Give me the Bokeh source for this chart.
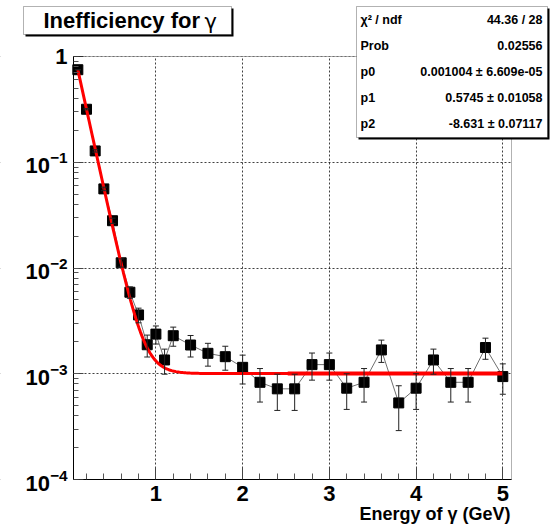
import numpy as np
from bokeh.plotting import figure
from bokeh.models import (ColumnDataSource, Whisker, TeeHead, FixedTicker, LogTicker,
                          Label, BoxAnnotation, LinearAxis, LogAxis, Range1d)
from bokeh.embed import file_html
from bokeh.resources import INLINE

# ---------------- data ----------------
energy = [0.1, 0.2, 0.3, 0.4, 0.5, 0.6, 0.7, 0.8, 0.9, 1.0, 1.1, 1.2,
          1.4, 1.6, 1.8, 2.0, 2.2, 2.4, 2.6, 2.8, 3.0, 3.2, 3.4, 3.6,
          3.8, 4.0, 4.2, 4.4, 4.6, 4.8, 5.0]
ineff = [0.75, 0.317, 0.128, 0.056, 0.028, 0.0112, 0.0059, 0.0036, 0.00188,
         0.00237, 0.00135, 0.00229, 0.00187, 0.00156, 0.00145, 0.00115,
         0.00083, 0.00072, 0.00072, 0.00122, 0.00122, 0.00073, 0.00083,
         0.00168, 0.00053, 0.00073, 0.00135, 0.00083, 0.00083, 0.00177, 0.00094]
ineff_err = [0.004, 0.0044, 0.0032, 0.0022, 0.0016, 0.001, 0.00073, 0.00057,
             0.00044, 0.00046, 0.00036, 0.00047, 0.00043, 0.00038, 0.00037,
             0.00035, 0.00029, 0.00027, 0.00027, 0.00035, 0.00035, 0.00027,
             0.00029, 0.0004, 0.00024, 0.00027, 0.00036, 0.00029, 0.00029,
             0.0004, 0.0003]

# fit shown in the stats box: p0 + exp(p1 + p2*x)
fit_p0, fit_p1, fit_p2 = 0.001004, 0.5745, -8.631
fit_range = [0.1, 5.0]
fit_flat_range = [2.52, 5.0]

title_main = "Inefficiency for"
title_symbol = "γ"
x_title = "Energy of γ (GeV)"
stats_labels = ["χ² / ndf", "Prob", "p0", "p1", "p2"]
stats_values = ["44.36 / 28", "0.02556", "0.001004 ± 6.609e-05",
                "0.5745 ± 0.01058", "-8.631 ± 0.07117"]
x_ticks = [1, 2, 3, 4, 5]
x_minor_ticks = [0.2, 0.4, 0.6, 0.8, 1.2, 1.4, 1.6, 1.8, 2.2, 2.4, 2.6, 2.8,
                 3.2, 3.4, 3.6, 3.8, 4.2, 4.4, 4.6, 4.8]

# ---------------- layout (pixel geometry of the inner frame) ----------------
W, H = 550, 524
FL, FR, FT, FB = 73, 511, 56, 479
X0, X1 = 0.05, 5.1
LY0, LY1 = -4.0, 0.0
FONT = "Liberation Sans"

sx = (X1 - X0) / (FR - FL)
sy = (LY1 - LY0) / (FB - FT)

def xd(px):
    return X0 + (px - FL) * sx

def yd(py):
    return 10 ** (LY1 - (py - FT) * sy)

p = figure(width=W, height=H,
           x_range=Range1d(xd(0), xd(W)), y_range=Range1d(yd(H), yd(0)),
           y_axis_type="log", x_axis_location=None, y_axis_location=None,
           output_backend="svg", toolbar_location=None,
           min_border=0, min_border_left=0, min_border_right=0,
           min_border_top=0, min_border_bottom=0)
p.title.visible = False
p.background_fill_color = "white"
p.border_fill_color = "white"
p.outline_line_color = None

# axes drawn at the inner frame edges
xaxis = LinearAxis(fixed_location=10 ** LY0, bounds=(X0, X1),
                   ticker=FixedTicker(ticks=x_ticks, minor_ticks=x_minor_ticks))
yaxis = LogAxis(fixed_location=X0, bounds=(10 ** LY0, 10 ** LY1),
                ticker=LogTicker(num_minor_ticks=10))
p.add_layout(xaxis, "below")
p.add_layout(yaxis, "left")
for ax in (xaxis, yaxis):
    ax.major_tick_out = 0
    ax.minor_tick_out = 0
    ax.axis_line_color = "black"
    ax.major_tick_line_color = "#444444"
    ax.minor_tick_line_color = "#555555"
    ax.major_label_text_font = FONT
    ax.major_label_text_font_style = "bold"
    ax.major_label_text_font_size = "22px"
    ax.major_label_text_color = "black"
xaxis.major_tick_in = 12
xaxis.minor_tick_in = 6
xaxis.major_label_standoff = 6
yaxis.major_tick_in = 10
yaxis.minor_tick_in = 5
yaxis.major_label_standoff = 6
yaxis.major_label_overrides = {1: "1"}

p.xgrid.ticker = xaxis.ticker
p.ygrid.ticker = yaxis.ticker
for g in (p.xgrid, p.ygrid):
    g.grid_line_color = "black"
    g.grid_line_alpha = 0.75
    g.grid_line_dash = "2 2"
    g.grid_line_width = 1

# white masks so grid lines stay inside the inner frame
for l, r, t, b in [(0, W, 0, FT), (0, W, FB, H), (0, FL, 0, H), (FR, W, 0, H)]:
    p.add_layout(BoxAnnotation(left=xd(l), right=xd(r), top=yd(t), bottom=yd(b),
                               fill_color="white", fill_alpha=1, line_color=None,
                               level="underlay"))

# ---------------- glyphs ----------------
src = ColumnDataSource(dict(
    x=energy, y=ineff,
    upper=[v + e for v, e in zip(ineff, ineff_err)],
    lower=[v - e for v, e in zip(ineff, ineff_err)],
))
p.line("x", "y", source=src, line_color="#707070", line_width=1)
wk = Whisker(source=src, base="x", upper="upper", lower="lower",
             line_color="#222222", line_width=1, level="glyph",
             upper_head=TeeHead(size=6, line_color="#222222", line_width=1),
             lower_head=TeeHead(size=6, line_color="#222222", line_width=1))
p.add_layout(wk)
p.scatter("x", "y", source=src, marker="square", size=10,
          fill_color="black", line_color="black")

fx = np.linspace(fit_range[0], fit_range[1], 300)
fy = fit_p0 + np.exp(fit_p1 + fit_p2 * fx)
p.line(fx, fy, line_color="red", line_width=3)
p.line(fit_flat_range, [fit_p0, fit_p0], line_color="red", line_width=4)

# inner frame outline
p.add_layout(BoxAnnotation(left=X0, right=X1, top=10 ** LY1, bottom=10 ** LY0,
                           fill_alpha=0, line_color="black", line_width=1))

# axis title
p.add_layout(Label(x=xd(510), y=yd(513), text=x_title, text_align="right",
                   text_baseline="middle", text_font=FONT, text_color="black",
                   text_font_size="18px", text_font_style="bold"))

# ---------------- title box ----------------
p.add_layout(BoxAnnotation(left=xd(25), right=xd(233), top=yd(8), bottom=yd(36),
                           fill_color="black", fill_alpha=1, line_color=None))
p.add_layout(BoxAnnotation(left=xd(23), right=xd(231), top=yd(6), bottom=yd(34),
                           fill_color="white", fill_alpha=1, line_color="black",
                           line_width=1))
p.add_layout(Label(x=xd(43), y=yd(20), text=title_main, text_align="left",
                   text_baseline="middle", text_font=FONT, text_color="black",
                   text_font_size="22px", text_font_style="bold"))
p.add_layout(Label(x=xd(204), y=yd(21), text=title_symbol, text_align="left",
                   text_baseline="middle", text_font="DejaVu Sans",
                   text_color="black",
                   text_font_size="21px", text_font_style="normal"))

# ---------------- stats box ----------------
p.add_layout(BoxAnnotation(left=xd(358), right=xd(549), top=yd(8), bottom=yd(139),
                           fill_color="black", fill_alpha=1, line_color=None))
p.add_layout(BoxAnnotation(left=xd(356), right=xd(547), top=yd(6), bottom=yd(137),
                           fill_color="white", fill_alpha=1, line_color="black",
                           line_width=1))
row_y = [19, 45, 71.5, 97.5, 123.5]
for ry, lab, val in zip(row_y, stats_labels, stats_values):
    p.add_layout(Label(x=xd(360), y=yd(ry), text=lab, text_align="left",
                       text_baseline="middle", text_font=FONT, text_color="black",
                       text_font_size="12.5px", text_font_style="bold"))
    p.add_layout(Label(x=xd(542), y=yd(ry), text=val, text_align="right",
                       text_baseline="middle", text_font=FONT, text_color="black",
                       text_font_size="12.5px", text_font_style="bold"))

open("out.html", "w").write(file_html(p, INLINE))
